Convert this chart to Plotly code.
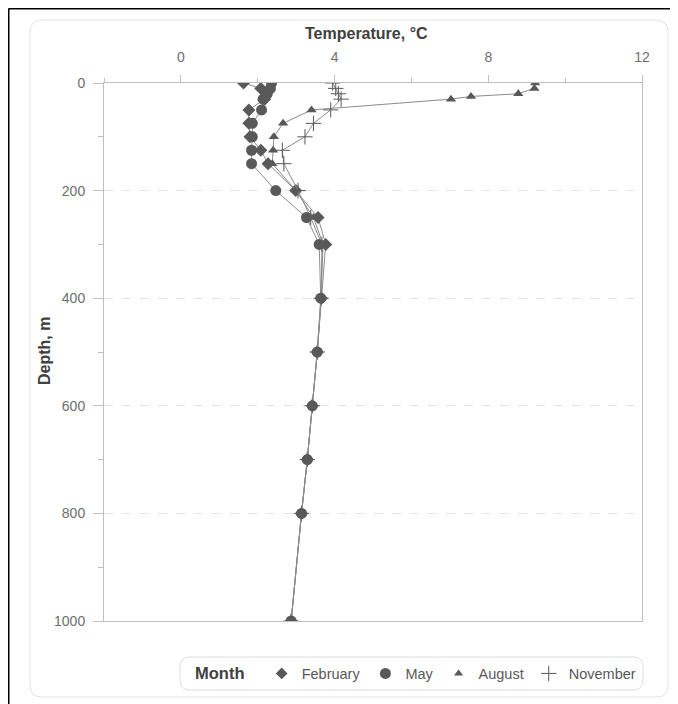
import plotly.graph_objects as go

# ---------------- data ----------------
feb_depth = [0, 10, 20, 30, 50, 75, 100, 125, 150, 200, 250, 300, 400, 500, 600, 700, 800, 1000]
feb_temp = [1.63, 2.08, 2.22, 2.18, 1.77, 1.77, 1.80, 2.08, 2.27, 2.99, 3.57, 3.77, 3.66, 3.55, 3.42, 3.29, 3.14, 2.87]

may_depth = [0, 10, 20, 30, 50, 75, 100, 125, 150, 200, 250, 300, 400, 500, 600, 700, 800, 1000]
may_temp = [2.36, 2.33, 2.25, 2.14, 2.10, 1.86, 1.86, 1.84, 1.84, 2.47, 3.27, 3.60, 3.64, 3.55, 3.42, 3.29, 3.14, 2.87]

aug_depth = [0, 10, 20, 25, 30, 50, 75, 100, 125, 150, 200, 250, 300, 400, 500, 600, 700, 800, 1000]
aug_temp = [9.22, 9.20, 8.78, 7.55, 7.03, 3.40, 2.66, 2.42, 2.40, 2.38, 3.00, 3.45, 3.70, 3.65, 3.55, 3.42, 3.29, 3.14, 2.87]

nov_depth = [0, 10, 20, 30, 50, 75, 100, 125, 150, 200, 250, 300, 400, 500, 600, 700, 800, 1000]
nov_temp = [3.95, 4.03, 4.10, 4.17, 3.90, 3.45, 3.23, 2.64, 2.68, 3.05, 3.38, 3.67, 3.65, 3.55, 3.42, 3.29, 3.14, 2.87]

months = ["February", "May", "August", "November"]
x_ticks = [0, 4, 8, 12]
y_ticks = [0, 200, 400, 600, 800, 1000]
x_title = "Temperature, °C"
y_title = "Depth, m"
legend_title = "Month"

# ---------------- layout geometry ----------------
W, H = 678, 704
OFF = 8  # page body margin: screen = figure + 8
L, T = 104 - OFF, 83 - OFF
R = W - (642 - OFF)
B = H - (621 - OFF)
PW, PH = W - L - R, H - T - B


def fx(sx):
    return (sx - OFF - L) / PW


def fy(sy):
    return (H - B - (sy - OFF)) / PH


MARK = "#595959"
LINE = "#8c8c8c"
TXT = "#404040"
TICK = "#6e6e6e"
AX = "#bfbfbf"
FONT = "Liberation Sans, Arial, sans-serif"

series = [
    (months[0], feb_temp, feb_depth, "diamond", 10, 9, MARK),
    (months[1], may_temp, may_depth, "circle", 11, 11, MARK),
    (months[2], aug_temp, aug_depth, "triangle-up", 9, 8, MARK),
    (months[3], nov_temp, nov_depth, "cross-thin", 11, 11, MARK),
]

fig = go.Figure()
# draw order: Feb, Aug, Nov, then May on top
for idx in [0, 2, 3, 1]:
    name, xs, ys, sym, size, lsize, col = series[idx]
    mk = dict(symbol=sym, size=size, color=col)
    if sym == "cross-thin":
        mk["line"] = dict(color=col, width=1)
    fig.add_trace(go.Scatter(
        x=xs, y=ys, mode="lines+markers", name=name,
        line=dict(color=LINE, width=1), marker=mk, showlegend=False,
    ))

# legend-only entries (marker only)
for name, xs, ys, sym, size, lsize, col in series:
    mk = dict(symbol=sym, size=lsize, color=col)
    if sym == "cross-thin":
        mk["line"] = dict(color=col, width=1)
    fig.add_trace(go.Scatter(
        x=[None], y=[None], mode="markers", name=name, marker=mk,
        showlegend=True,
    ))

shapes = []
# outer black border (left and top edges of the figure)
shapes.append(dict(type="line", xref="paper", yref="paper",
                   x0=fx(8.5), x1=fx(W + 20), y0=fy(8.5), y1=fy(8.5),
                   line=dict(color="black", width=2)))
shapes.append(dict(type="line", xref="paper", yref="paper",
                   x0=fx(8.5), x1=fx(8.5), y0=fy(8.5), y1=fy(H + 20),
                   line=dict(color="black", width=2)))


def rounded(x0, y0, x1, y1, r):
    X0, X1 = fx(x0), fx(x1)
    Y0, Y1 = fy(y0), fy(y1)  # Y0 top, Y1 bottom
    rx, ry = r / PW, r / PH
    return (f"M {X0+rx},{Y0} L {X1-rx},{Y0} Q {X1},{Y0} {X1},{Y0-ry} "
            f"L {X1},{Y1+ry} Q {X1},{Y1} {X1-rx},{Y1} L {X0+rx},{Y1} "
            f"Q {X0},{Y1} {X0},{Y1+ry} L {X0},{Y0-ry} Q {X0},{Y0} {X0+rx},{Y0} Z")


shapes.append(dict(type="path", xref="paper", yref="paper",
                   path=rounded(30, 20, 668, 697, 12),
                   line=dict(color="#e3e3e3", width=1), layer="below"))
shapes.append(dict(type="path", xref="paper", yref="paper",
                   path=rounded(180, 657, 643, 690, 10),
                   line=dict(color="#dcdcdc", width=1), layer="below"))

annotations = [
    dict(text=f"<b>{x_title}</b>", xref="paper", yref="paper",
         x=fx(366), y=fy(33), xanchor="center", yanchor="middle", showarrow=False,
         font=dict(family=FONT, size=16, color=TXT)),
    dict(text=f"<b>{y_title}</b>", xref="paper", yref="paper", textangle=-90,
         x=fx(44), y=fy(351), xanchor="center", yanchor="middle", showarrow=False,
         font=dict(family=FONT, size=16, color=TXT)),
]

fig.update_layout(
    width=W, height=H,
    margin=dict(l=L, r=R, t=T, b=B),
    paper_bgcolor="white", plot_bgcolor="white",
    font=dict(family=FONT, color=TICK, size=14),
    shapes=shapes,
    annotations=annotations,
    showlegend=True,
    legend=dict(
        orientation="h", x=fx(193), y=fy(673.5), xanchor="left", yanchor="middle",
        bgcolor="rgba(0,0,0,0)", font=dict(family=FONT, size=14.5, color="#595959"),
        title=dict(text=f"<b>{legend_title}</b>  ", font=dict(family=FONT, size=16.5, color=TXT), side="left"),
        itemwidth=30, tracegroupgap=0,
    ),
    xaxis=dict(
        side="top", range=[-2, 12], tickvals=x_ticks, ticktext=[str(v) for v in x_ticks],
        showgrid=False, zeroline=False,
        showline=True, linecolor=AX, linewidth=1, mirror=True,
        ticks="outside", ticklen=7, tickcolor=AX, ticklabelstandoff=7,
        minor=dict(dtick=2, tick0=0, ticks="outside", ticklen=4, tickcolor=AX, showgrid=False),
        tickfont=dict(family=FONT, size=14, color=TICK),
    ),
    yaxis=dict(
        range=[1000, 0], tickvals=y_ticks, ticktext=[str(v) for v in y_ticks],
        showgrid=True, gridcolor="#e3e3e3", griddash="dash", gridwidth=1,
        zeroline=False,
        showline=True, linecolor=AX, linewidth=1, mirror=True,
        ticks="outside", ticklen=10, tickcolor=AX, ticklabelstandoff=5,
        minor=dict(dtick=100, tick0=0, ticks="outside", ticklen=5, tickcolor=AX, showgrid=False),
        tickfont=dict(family=FONT, size=14, color=TICK),
    ),
)

fig.write_html("out.html")
